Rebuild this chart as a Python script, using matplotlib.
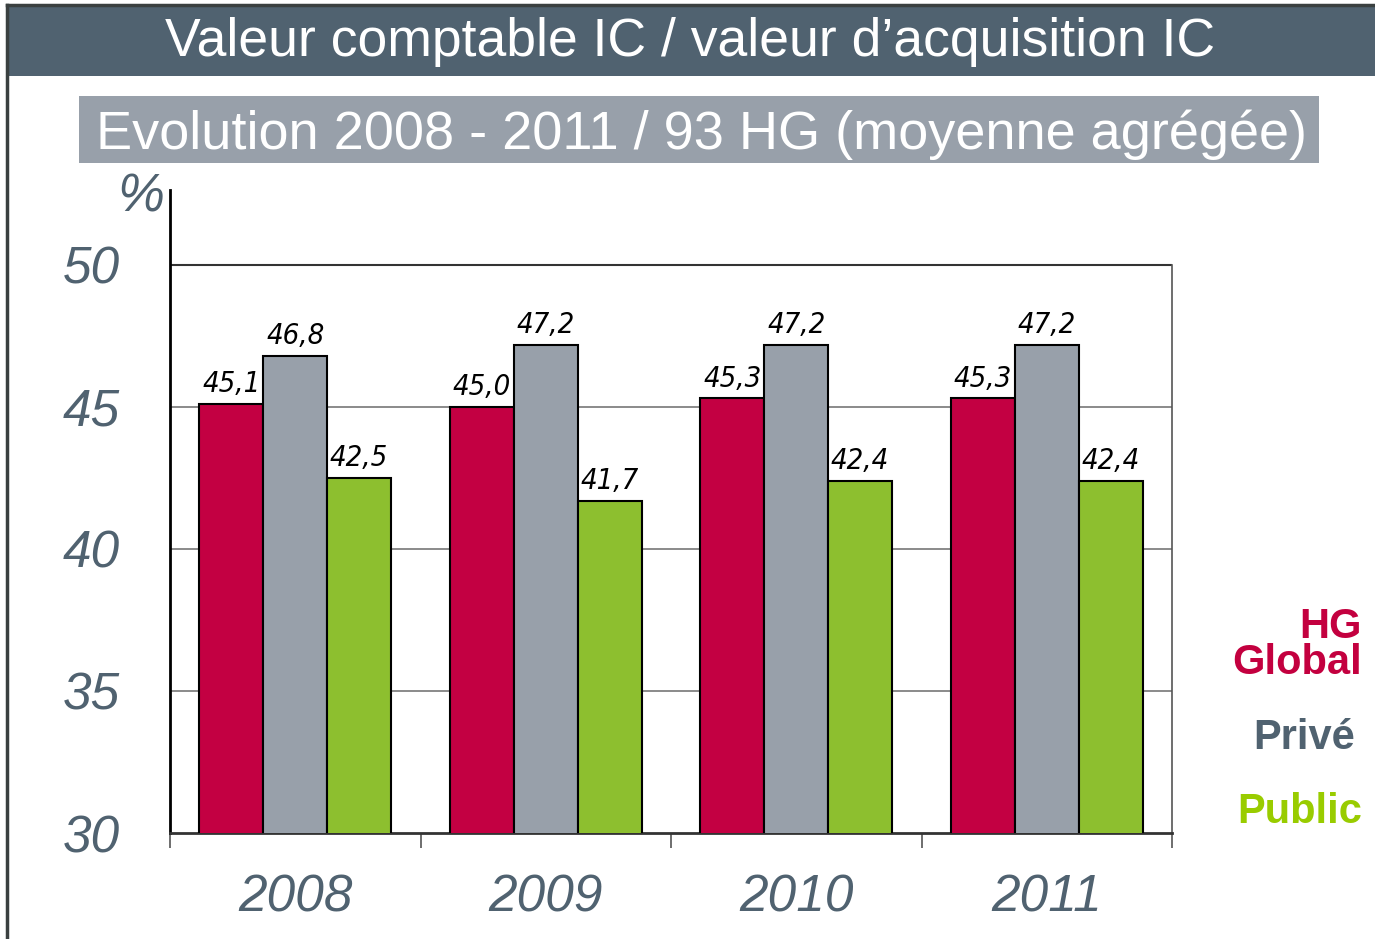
import numpy as np
import matplotlib
matplotlib.use("Agg")
import matplotlib.pyplot as plt
from matplotlib.patches import Rectangle
from matplotlib.lines import Line2D

years = ["2008", "2009", "2010", "2011"]
hg_global = [45.1, 45.0, 45.3, 45.3]
prive = [46.8, 47.2, 47.2, 47.2]
public = [42.5, 41.7, 42.4, 42.4]
labels_global = ["45,1", "45,0", "45,3", "45,3"]
labels_prive = ["46,8", "47,2", "47,2", "47,2"]
labels_public = ["42,5", "41,7", "42,4", "42,4"]
yticks = [30, 35, 40, 45, 50]

c_red = "#c30042"
c_gray = "#98a0aa"
c_green = "#8dbf2f"
c_slate = "#506270"

plt.rcParams["font.family"] = ["Liberation Sans", "DejaVu Sans"]

fig = plt.figure(figsize=(13.75, 9.39), dpi=100)
W, H = 1375, 939

# frame + title bars
fig.add_artist(Line2D([7 / W, 7 / W], [0, 1 - 5 / H], color="#3a4040", lw=2.5))
fig.add_artist(Line2D([7 / W, 1], [1 - 5 / H, 1 - 5 / H], color="#3a4040", lw=2.5))
fig.add_artist(Rectangle((8 / W, 1 - 76 / H), 1 - 8 / W, 70 / H, color=c_slate, lw=0))
fig.text(690 / W, 1 - 42 / H, "Valeur comptable IC / valeur d\u2019acquisition IC",
         color="white", fontsize=38.5, ha="center", va="center")
fig.add_artist(Rectangle((79 / W, 1 - 163 / H), 1240 / W, 67 / H, color=c_gray, lw=0))
fig.text(702 / W, 1 - 135 / H, "Evolution 2008 - 2011 / 93 HG (moyenne agr\u00e9g\u00e9e)",
         color="white", fontsize=39, ha="center", va="center")

ax = fig.add_axes([170 / W, 106 / H, 1002 / W, 643 / H])
x = np.arange(len(years))
bw = 0.255
ax.bar(x - bw, hg_global, bw, color=c_red, edgecolor="black", lw=1.5, zorder=3)
ax.bar(x, prive, bw, color=c_gray, edgecolor="black", lw=1.5, zorder=3)
ax.bar(x + bw, public, bw, color=c_green, edgecolor="black", lw=1.5, zorder=3)

lab_font = dict(family="DejaVu Sans", stretch="condensed", style="italic",
                fontsize=21, color="black", ha="center", va="bottom")
for xs, vals, labs in [(x - bw, hg_global, labels_global),
                       (x, prive, labels_prive),
                       (x + bw, public, labels_public)]:
    for xi, v, t in zip(xs, vals, labs):
        ax.text(xi, v + 0.2, t, **lab_font)

ax.set_xlim(-0.5, len(years) - 0.5)
ax.set_ylim(30, 52.64)
ax.set_yticks(yticks)
ax.set_yticklabels([str(v) for v in yticks], fontsize=37, style="italic", color=c_slate)
ax.tick_params(axis="y", length=0, pad=36)
for v in yticks[1:-1]:
    ax.axhline(v, color="#777777", lw=1.2, zorder=1)
ax.plot([-0.5, len(years) - 0.5], [50, 50], color="#333333", lw=1.5, zorder=1)

ax.set_xticks(x)
ax.set_xticklabels(years, fontsize=37, style="italic", color=c_slate)
ax.set_xticks(np.arange(len(years) + 1) - 0.5, minor=True)
ax.tick_params(axis="x", which="major", length=0, pad=29)
ax.tick_params(axis="x", which="minor", length=11, width=1.2, color="#555555")

ax.spines["top"].set_visible(False)
ax.spines["right"].set_bounds(30, 50)
ax.spines["right"].set_color("#555555")
ax.spines["right"].set_linewidth(1.2)
ax.spines["left"].set_linewidth(2)
ax.spines["bottom"].set_linewidth(2)
ax.spines["bottom"].set_color("#333333")

fig.text(141 / W, 1 - 198 / H, "%", fontsize=38, style="italic", color=c_slate,
         ha="center", va="center")

# legend as coloured labels
fig.text(1362 / W, 1 - 645 / H, "HG\nGlobal", fontsize=30, fontweight="bold",
         color="#c3003f", ha="right", va="center", linespacing=0.85)
fig.text(1355 / W, 1 - 738 / H, "Priv\u00e9", fontsize=30, fontweight="bold",
         color=c_slate, ha="right", va="center")
fig.text(1362 / W, 1 - 812 / H, "Public", fontsize=30, fontweight="bold",
         color="#99cc00", ha="right", va="center")

fig.savefig("out.png", dpi=100)
